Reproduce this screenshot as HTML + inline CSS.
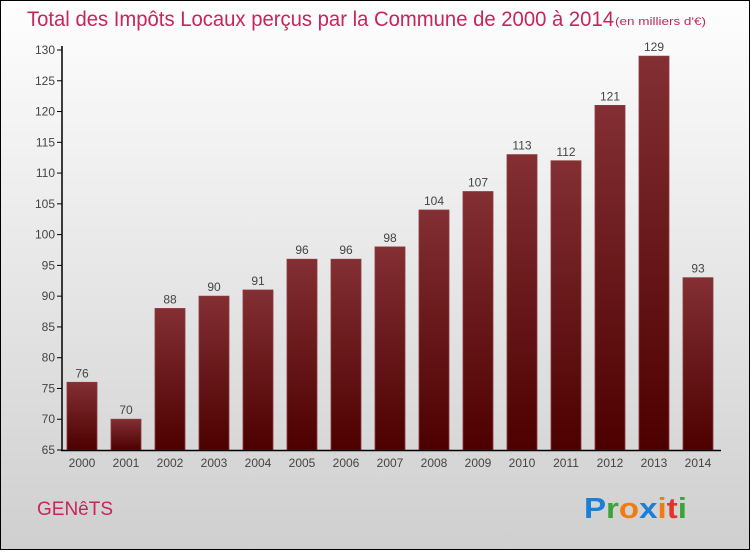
<!DOCTYPE html>
<html><head><meta charset="utf-8"><style>
body{margin:0;width:750px;height:550px;overflow:hidden;font-family:"Liberation Sans",sans-serif}
#c{position:absolute;left:0;top:0;width:748px;height:548px;border:1px solid #000;background:linear-gradient(#fefefe,#cfcfcf)}
</style></head><body>
<div id="c">
<svg width="748" height="548" id="svg">
<defs><linearGradient id="g" x1="0" y1="0" x2="0" y2="1"><stop offset="0" stop-color="#832f33"/><stop offset="1" stop-color="#4d0000"/></linearGradient></defs>
<text x="26" y="25" font-size="21" fill="#c8255a" textLength="587" lengthAdjust="spacingAndGlyphs">Total des Impôts Locaux perçus par la Commune de 2000 à 2014</text>
<text x="614" y="24" font-size="11" fill="#c8255a" textLength="91" lengthAdjust="spacingAndGlyphs">(en milliers d'€)</text>
<text x="36" y="514" font-size="19" fill="#c8255a">GENêTS</text>
<text x="583" y="517" font-size="29" font-weight="bold" textLength="103" lengthAdjust="spacingAndGlyphs"><tspan fill="#1a7fd6">P</tspan><tspan fill="#3aa33a">r</tspan><tspan fill="#f07c10">o</tspan><tspan fill="#1a7fd6">x</tspan><tspan fill="#f07c10">i</tspan><tspan fill="#e2342a">t</tspan><tspan fill="#3aa33a">i</tspan></text>
</svg></div>
<script>
const years=["2000","2001","2002","2003","2004","2005","2006","2007","2008","2009","2010","2011","2012","2013","2014"];
const values=[76,70,88,90,91,96,96,98,104,107,113,112,121,129,93];
const yTicks=[65,70,75,80,85,90,95,100,105,110,115,120,125,130];
const svg=document.getElementById('svg');const NS='http://www.w3.org/2000/svg';
const y=v=>449-(v-65)*(400/65);const x=i=>81+i*44;
function mk(t,a){const e=document.createElementNS(NS,t);for(const k in a)e.setAttribute(k,a[k]);svg.appendChild(e);return e;}
yTicks.forEach(t=>{
const l=mk('line',{x1:56,x2:61,y1:y(t),y2:y(t),stroke:'#000'});


const tx=mk('text',{x:54,y:y(t)+4,'font-size':12,fill:'#444','text-anchor':'end'});tx.textContent=t;


});
values.forEach((v,i)=>{
const r=mk('rect',{x:x(i)-15,y:y(v),width:30,height:449-y(v),fill:'url(#g)',stroke:'#8a3a3d','stroke-width':0.8});


const t=mk('text',{x:x(i),y:y(v)-5,'font-size':12,fill:'#444','text-anchor':'middle'});t.textContent=v;


const yl=mk('text',{x:x(i),y:466,'font-size':12,fill:'#444','text-anchor':'middle'});yl.textContent=years[i];


});
const ya=mk('line',{x1:61,x2:61,y1:45,y2:450,stroke:'#000','stroke-width':1.5});


const xa=mk('line',{x1:60,x2:720,y1:449.5,y2:449.5,stroke:'#000','stroke-width':1.5});


</script>
</body></html>
